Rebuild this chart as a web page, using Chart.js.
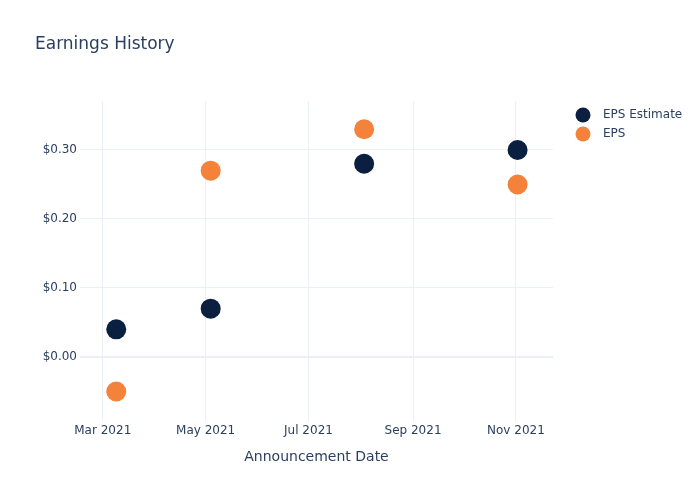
<!DOCTYPE html>
<html>
<head>
<meta charset="utf-8">
<script src="https://cdn.jsdelivr.net/npm/chart.js@4/dist/chart.umd.min.js"></script>
<style>
  html, body { margin: 0; padding: 0; background: #fff; }
  #wrap { width: 700px; height: 500px; }
</style>
</head>
<body>
<div id="wrap"><canvas id="earningsChart" width="700" height="500"></canvas></div>
<script>
// Chart data
const announceDates = ['2021-03-09', '2021-05-04', '2021-08-03', '2021-11-02'];
const epsEstimate = [0.04, 0.07, 0.28, 0.30];
const epsActual = [-0.05, 0.27, 0.33, 0.25];
const xTickDates = ['2021-03-01', '2021-05-01', '2021-07-01', '2021-09-01', '2021-11-01'];
const yTickValues = [0, 0.1, 0.2, 0.3];

const monthNames = ['Jan', 'Feb', 'Mar', 'Apr', 'May', 'Jun', 'Jul', 'Aug', 'Sep', 'Oct', 'Nov', 'Dec'];
const textColor = '#2a3f5f';
const gridColor = '#ebf0f8';
const fontFamily = '"DejaVu Sans", sans-serif';

function toMs(d) {
    return Date.parse(d + 'T00:00:00Z');
}

function formatMonth(ms) {
    const d = new Date(ms);
    return monthNames[d.getUTCMonth()] + ' ' + d.getUTCFullYear();
}

const estimatePoints = announceDates.map((d, i) => ({ x: toMs(d), y: epsEstimate[i] }));
const actualPoints = announceDates.map((d, i) => ({ x: toMs(d), y: epsActual[i] }));

// Title, axis title and legend drawn like plotly does
const decorPlugin = {
    id: 'decor',
    afterDraw(chart) {
        const ctx = chart.ctx;
        const area = chart.chartArea;
        ctx.save();
        ctx.fillStyle = textColor;
        ctx.textBaseline = 'middle';

        ctx.font = '17px ' + fontFamily;
        ctx.textAlign = 'left';
        ctx.fillText('Earnings History', 35, 45);

        ctx.font = '14px ' + fontFamily;
        ctx.textAlign = 'center';
        ctx.fillText('Announcement Date', (area.left + area.right) / 2, 457);

        ctx.font = '12px ' + fontFamily;
        ctx.textAlign = 'left';
        chart.data.datasets.forEach((ds, i) => {
            const y = 115 + i * 19;
            ctx.beginPath();
            ctx.fillStyle = ds.backgroundColor;
            ctx.arc(583, y, 7.5, 0, Math.PI * 2);
            ctx.fill();
            ctx.fillStyle = textColor;
            ctx.fillText(ds.label, 603, y);
        });
        ctx.restore();
    }
};

const ctx = document.getElementById('earningsChart').getContext('2d');
const earningsChart = new Chart(ctx, {
    type: 'scatter',
    data: {
        datasets: [{
            label: 'EPS Estimate',
            data: estimatePoints,
            backgroundColor: '#0b1f41',
            borderColor: '#0b1f41',
            pointRadius: 10,
            pointHoverRadius: 10,
            borderWidth: 0
        }, {
            label: 'EPS',
            data: actualPoints,
            backgroundColor: '#f5823a',
            borderColor: '#f5823a',
            pointRadius: 10,
            pointHoverRadius: 10,
            borderWidth: 0
        }]
    },
    options: {
        responsive: false,
        animation: false,
        layout: {
            padding: { left: 0, right: 147, top: 101, bottom: 0 }
        },
        plugins: {
            legend: { display: false },
            title: { display: false },
            tooltip: { enabled: false }
        },
        scales: {
            x: {
                type: 'linear',
                min: toMs('2021-02-15') + 12 * 3600000,
                max: toMs('2021-11-23'),
                afterFit(scale) { scale.height = 79; },
                afterBuildTicks(scale) {
                    scale.ticks = xTickDates.map(d => ({ value: toMs(d) }));
                },
                grid: { color: gridColor, drawTicks: false, lineWidth: 1 },
                border: { display: false },
                ticks: {
                    color: textColor,
                    font: { family: fontFamily, size: 12 },
                    padding: 3,
                    maxRotation: 0,
                    autoSkip: false,
                    callback: (v) => formatMonth(v)
                }
            },
            y: {
                min: -0.0928,
                max: 0.371,
                afterFit(scale) { scale.width = 80; },
                afterBuildTicks(scale) {
                    scale.ticks = yTickValues.map(v => ({ value: v }));
                },
                grid: {
                    color: gridColor,
                    drawTicks: false,
                    lineWidth: (c) => (c.tick && c.tick.value === 0 ? 2 : 1)
                },
                border: { display: false },
                ticks: {
                    color: textColor,
                    font: { family: fontFamily, size: 12 },
                    padding: 3,
                    callback: (v) => '$' + v.toFixed(2)
                }
            }
        }
    },
    plugins: [decorPlugin]
});
</script>
</body>
</html>
